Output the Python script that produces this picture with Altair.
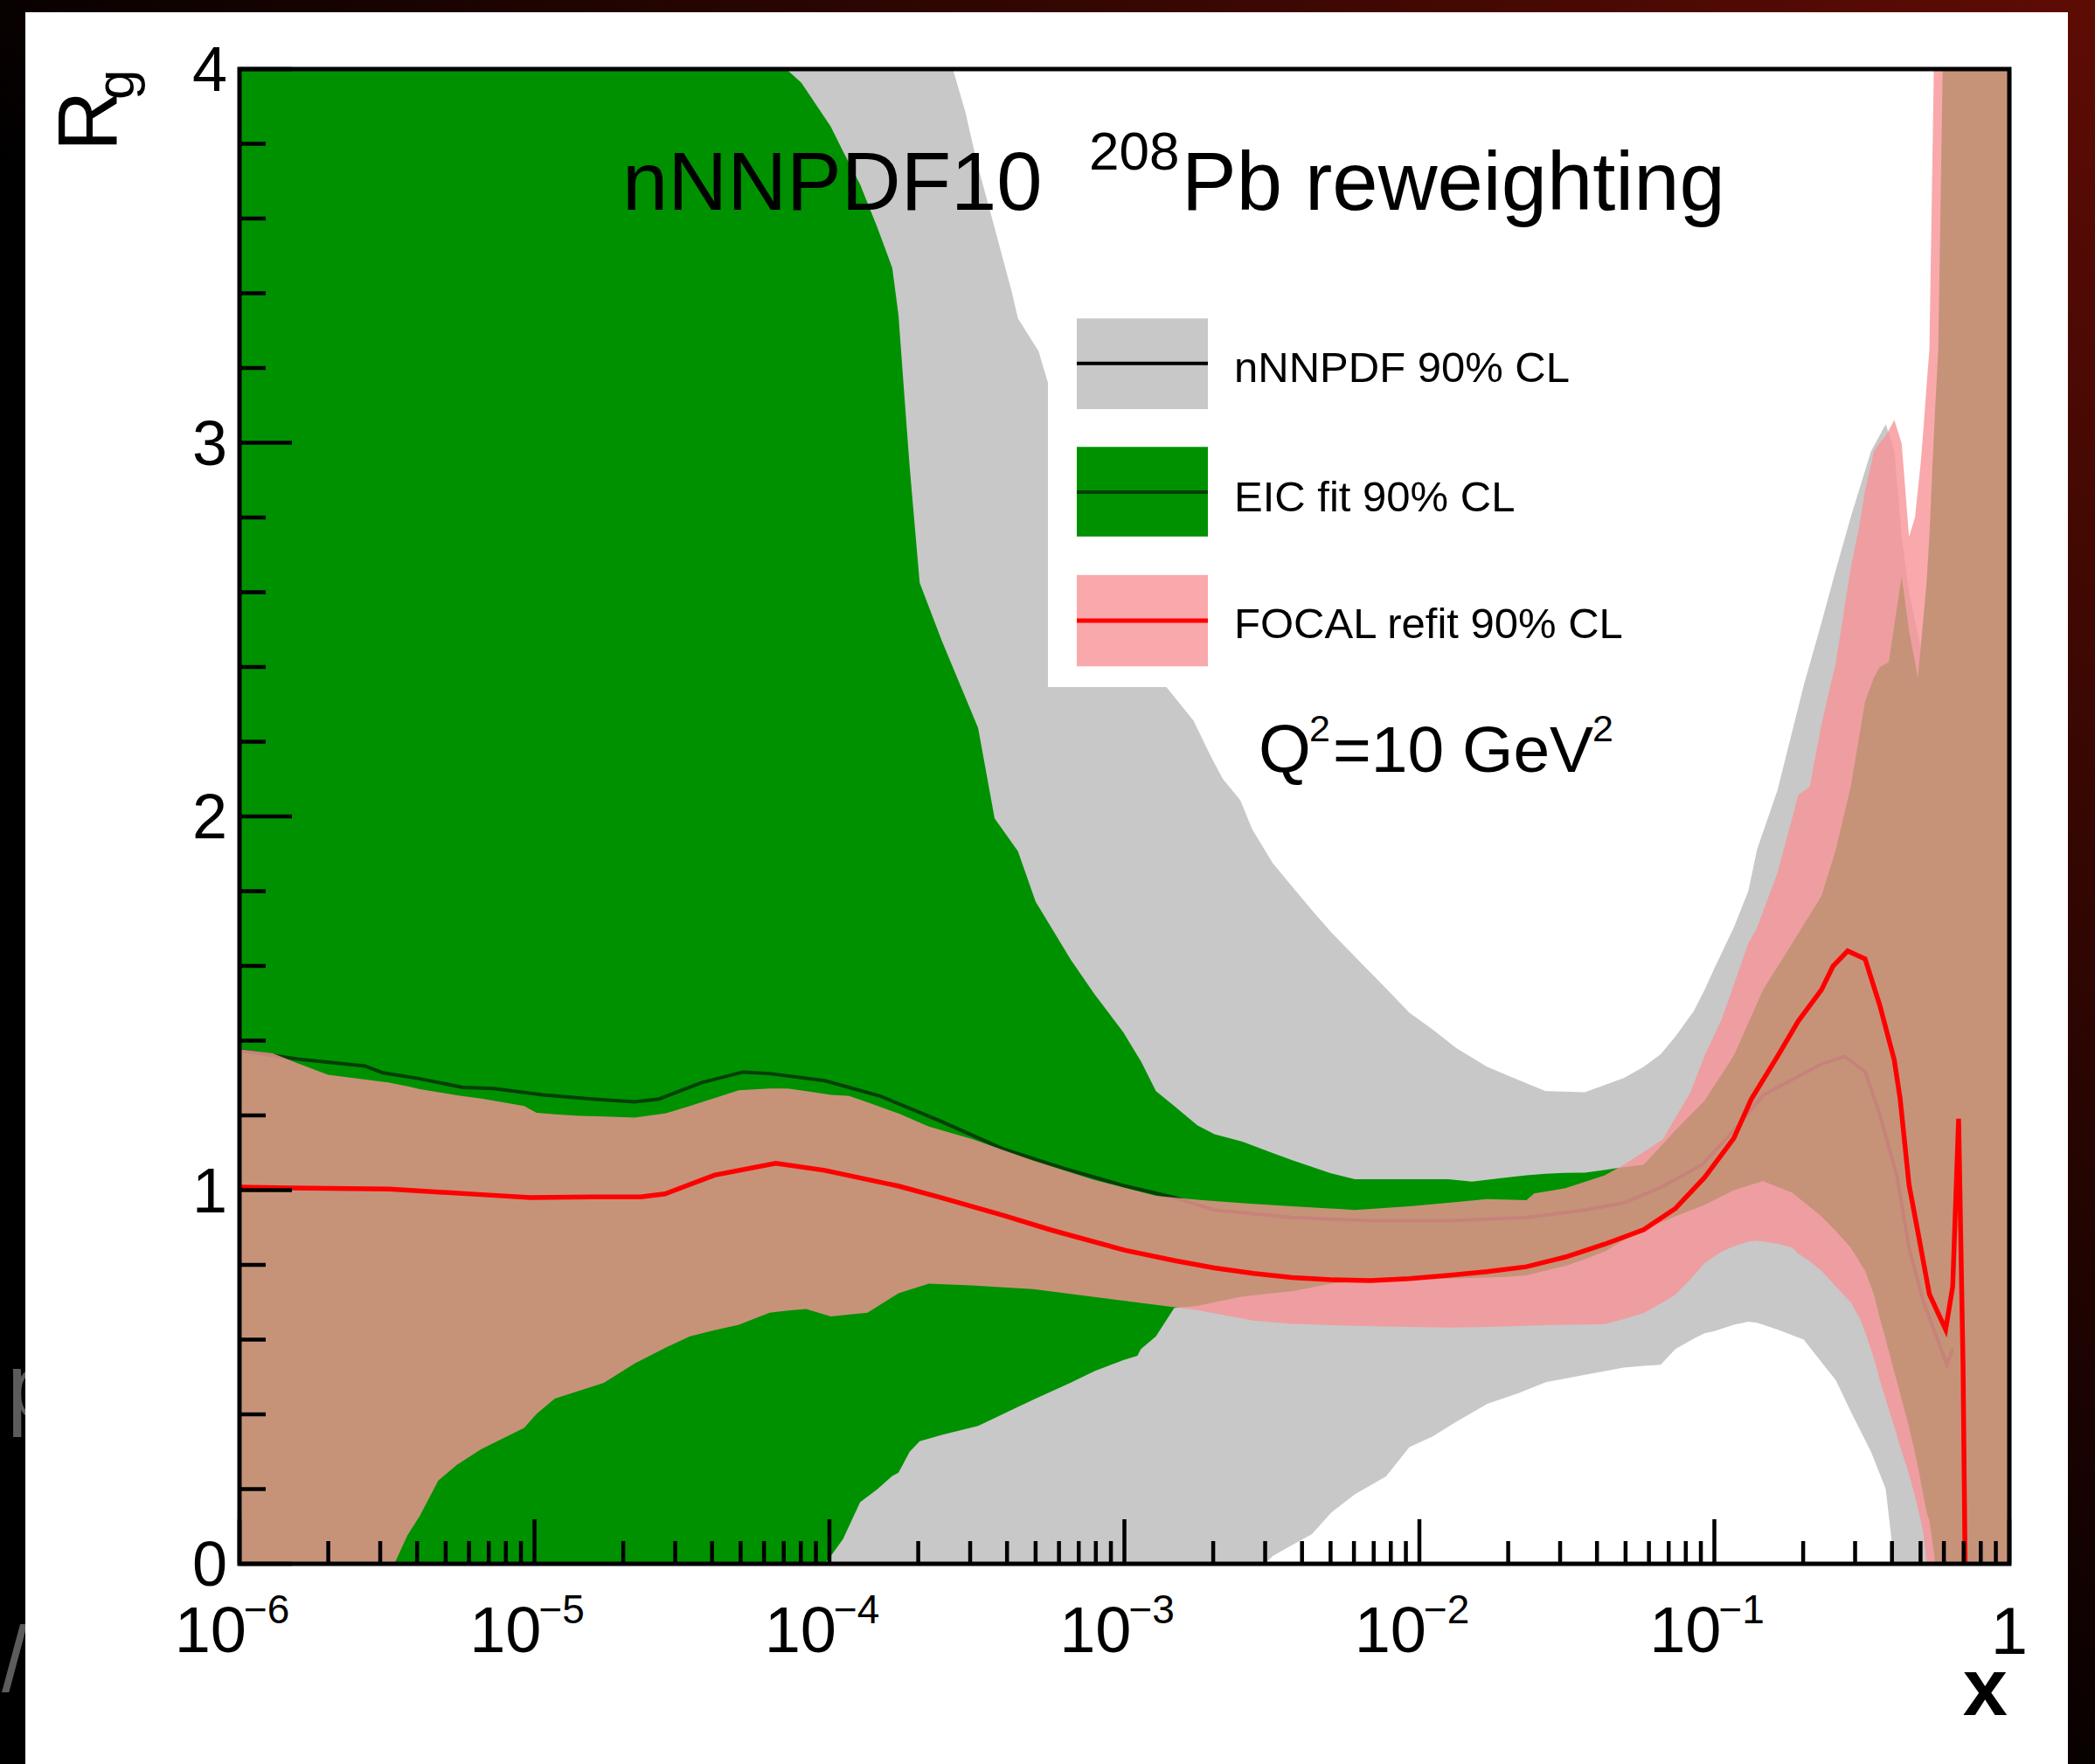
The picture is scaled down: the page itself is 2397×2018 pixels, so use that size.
import altair as alt
import numpy as np
import pandas as pd

W, H = 2025, 1710
FONT = "Liberation Sans"

# ---------------- data (log10 x, R_g values) ----------------
# nNNPDF 90% CL band (grey)
gray_lx = [-6.0, -3.62, -3.589, -3.539, -3.50, -3.44, -3.381, -3.361, -3.291, -3.262, -3.15, -3.0,
           -2.865, -2.766, -2.706, -2.667, -2.607, -2.567, -2.524, -2.497, -2.409, -2.365, -2.299,
           -2.219, -2.113, -2.034, -1.955, -1.875, -1.770, -1.664, -1.572, -1.439, -1.307, -1.240,
           -1.182, -1.132, -1.069, -1.033, -1.002, -0.934, -0.885, -0.855, -0.786, -0.697, -0.637,
           -0.588, -0.538, -0.469, -0.419, -0.390, -0.365, -0.340, -0.300, -0.250, 0.0]
gray_lo = [0, 0, 0, 0, 0, 0, 0, 0, 0, 0, 0, 0, 0, 0, 0, 0, 0, 0, 0,
           0.021, 0.060, 0.079, 0.137, 0.186, 0.234, 0.312, 0.341, 0.380, 0.428, 0.457, 0.486,
           0.506, 0.525, 0.530, 0.533, 0.575, 0.603, 0.617, 0.622, 0.640, 0.648, 0.645, 0.627,
           0.600, 0.540, 0.491, 0.408, 0.300, 0.200, 0.0, 0, 0, 0, 0, 0]
gray_hi = [4.3, 4.3, 4.02, 3.885, 3.75, 3.575, 3.401, 3.333, 3.245, 3.168, 2.93, 2.63,
           2.353, 2.257, 2.159, 2.101, 2.043, 1.966, 1.91, 1.875, 1.791, 1.75, 1.69,
           1.625, 1.54, 1.475, 1.43, 1.38, 1.33, 1.295, 1.265, 1.262, 1.30, 1.330,
           1.364, 1.411, 1.48, 1.536, 1.59, 1.703, 1.80, 1.912, 2.07, 2.351, 2.518,
           2.66, 2.80, 2.977, 3.05, 2.98, 2.75, 2.60, 2.45, 2.3, 2.2]

# EIC fit 90% CL band (green)
green_lx = [-6.0, -4.20, -4.174, -4.095, -4.016, -3.996, -3.954, -3.896, -3.837, -3.787, -3.766,
            -3.748, -3.728, -3.694, -3.619, -3.496, -3.440, -3.361, -3.301, -3.182, -3.101,
            -3.004, -2.956, -2.944, -2.893, -2.831, -2.752, -2.695, -2.60, -2.50, -2.431, -2.30,
            -2.219, -2.034, -1.902, -1.822, -1.703, -1.637, -1.571, -1.505, -1.439, -1.373,
            -1.320, -1.240, -1.132, -1.033, -0.934, -0.835, -0.736, -0.637, -0.588, -0.538,
            -0.489, -0.459, -0.439, -0.409, -0.365, -0.340, -0.310, -0.281, -0.271, -0.261,
            -0.251, -0.241, -0.22, 0.0]
green_lo = [0, 0, 0, 0, 0, 0.02, 0.066, 0.165, 0.20, 0.235, 0.244, 0.27, 0.30, 0.328, 0.345,
            0.369, 0.39, 0.42, 0.442, 0.485, 0.516, 0.545, 0.557, 0.575, 0.609, 0.685, 0.690,
            0.700, 0.715, 0.724, 0.729, 0.750, 0.755, 0.760, 0.763, 0.765, 0.768, 0.772, 0.785,
            0.797, 0.815, 0.835, 0.860, 0.894, 0.930, 0.960, 1.000, 1.024, 0.993, 0.930, 0.890,
            0.846, 0.784, 0.720, 0.658, 0.570, 0.440, 0.366, 0.260, 0.140, 0.115, 0.060, 0.0,
            0, 0, 0]
green_hi = [4.3, 4.3, 4.02, 3.963, 3.87, 3.847, 3.78, 3.691, 3.575, 3.468, 3.342, 3.148, 2.935,
            2.625, 2.470, 2.237, 1.995, 1.907, 1.772, 1.617, 1.524, 1.423, 1.36, 1.345, 1.265,
            1.225, 1.173, 1.150, 1.13, 1.10, 1.08, 1.045, 1.029, 1.029, 1.029, 1.023, 1.034,
            1.040, 1.044, 1.046, 1.047, 1.054, 1.060, 1.068, 1.160, 1.240, 1.360, 1.536, 1.661,
            1.787, 1.912, 2.079, 2.309, 2.372, 2.40, 2.413, 2.643, 2.497, 2.372, 2.622, 2.75,
            2.936, 3.10, 3.249, 4.3, 4.3]

# EIC fit central value (dark green line)
eic_lx = [-6.0, -5.804, -5.575, -5.513, -5.388, -5.243, -5.139, -4.972, -4.806, -4.661, -4.577,
          -4.432, -4.293, -4.203, -4.016, -3.829, -3.621, -3.413, -3.205, -2.997, -2.831, -2.695,
          -2.431, -2.166, -1.902, -1.637, -1.439, -1.307, -1.174, -1.042, -0.934, -0.835, -0.736,
          -0.637, -0.558, -0.489, -0.439, -0.380, -0.340, -0.291, -0.241, -0.212, -0.192]
eic_y = [1.374, 1.351, 1.332, 1.314, 1.298, 1.275, 1.272, 1.255, 1.244, 1.236, 1.244,
         1.288, 1.316, 1.312, 1.293, 1.252, 1.184, 1.111, 1.058, 1.011, 0.980, 0.947,
         0.927, 0.918, 0.918, 0.927, 0.947, 0.966, 1.010, 1.068, 1.160, 1.254, 1.296,
         1.337, 1.358, 1.317, 1.202, 1.034, 0.846, 0.700, 0.596, 0.533, 0.575]

# FOCAL refit 90% CL band (pink)
pink_lx = [-6.0, -5.887, -5.804, -5.700, -5.492, -5.475, -5.430, -5.388, -5.326, -5.263, -5.180,
           -5.035, -4.993, -4.931, -4.848, -4.765, -4.660, -4.557, -4.473, -4.390, -4.307, -4.203,
           -4.141, -4.079, -3.995, -3.933, -3.871, -3.766, -3.663, -3.517, -3.309, -3.101, -2.893,
           -2.762, -2.695, -2.563, -2.431, -2.219, -2.034, -1.902, -1.770, -1.637, -1.611, -1.505,
           -1.373, -1.307, -1.240, -1.174, -1.135, -1.082, -1.033, -0.976, -0.934, -0.885, -0.855,
           -0.786, -0.736, -0.716, -0.677, -0.637, -0.588, -0.538, -0.508, -0.489, -0.459, -0.439,
           -0.419, -0.390, -0.365, -0.340, -0.320, -0.300, -0.291, -0.281, -0.271, -0.250, 0.0]
pink_lo = [0, 0, 0, 0, 0, 0, 0.077, 0.129, 0.223, 0.265, 0.307, 0.364, 0.401, 0.442, 0.463,
           0.484, 0.536, 0.578, 0.609, 0.625, 0.640, 0.672, 0.678, 0.682, 0.662, 0.667, 0.672,
           0.724, 0.750, 0.745, 0.735, 0.714, 0.693, 0.680, 0.670, 0.651, 0.642, 0.637, 0.634,
           0.632, 0.634, 0.637, 0.638, 0.640, 0.641, 0.655, 0.671, 0.700, 0.719, 0.760, 0.805,
           0.835, 0.850, 0.862, 0.865, 0.857, 0.846, 0.830, 0.810, 0.784, 0.742, 0.700, 0.658,
           0.620, 0.550, 0.491, 0.440, 0.366, 0.300, 0.240, 0.180, 0.115, 0.080, 0.0, 0, 0, 0]
pink_hi = [1.377, 1.366, 1.340, 1.309, 1.288, 1.285, 1.278, 1.270, 1.262, 1.254, 1.245, 1.225,
           1.207, 1.203, 1.199, 1.197, 1.194, 1.205, 1.225, 1.246, 1.267, 1.272, 1.272, 1.265,
           1.255, 1.252, 1.235, 1.205, 1.170, 1.137, 1.079, 1.027, 0.985, 0.975, 0.971, 0.963,
           0.957, 0.947, 0.957, 0.966, 0.976, 0.973, 0.991, 1.005, 1.039, 1.068, 1.102, 1.136,
           1.190, 1.260, 1.360, 1.456, 1.550, 1.660, 1.703, 1.850, 1.996, 2.058, 2.079, 2.246,
           2.413, 2.664, 2.780, 2.873, 2.977, 3.000, 3.019, 3.061, 2.998, 2.748, 2.800, 2.950,
           3.040, 3.150, 3.249, 4.3, 4.3]

# FOCAL refit central value (red line)
red_lx = [-6.0, -5.825, -5.492, -5.180, -5.014, -4.806, -4.640, -4.557, -4.390, -4.182, -4.016,
          -3.767, -3.621, -3.413, -3.247, -2.997, -2.828, -2.695, -2.563, -2.431, -2.299, -2.166,
          -2.034, -1.902, -1.770, -1.637, -1.505, -1.373, -1.240, -1.132, -1.033, -0.934, -0.875,
          -0.786, -0.716, -0.637, -0.598, -0.548, -0.489, -0.439, -0.390, -0.370, -0.340, -0.310,
          -0.271, -0.216, -0.192, -0.172, -0.157, -0.150]
red_y = [1.008, 1.006, 1.003, 0.988, 0.980, 0.982, 0.982, 0.990, 1.040, 1.072, 1.053,
         1.011, 0.980, 0.933, 0.893, 0.839, 0.811, 0.792, 0.777, 0.766, 0.760, 0.758,
         0.763, 0.772, 0.782, 0.795, 0.821, 0.855, 0.894, 0.951, 1.034, 1.139, 1.243,
         1.358, 1.452, 1.536, 1.599, 1.640, 1.619, 1.494, 1.348, 1.243, 1.014, 0.888,
         0.721, 0.627, 0.742, 1.191, 0.533, 0.0]

# axis ticks and labels
y_major = [0, 1, 2, 3, 4]
y_minor = [0.2, 0.4, 0.6, 0.8, 1.2, 1.4, 1.6, 1.8, 2.2, 2.4, 2.6, 2.8, 3.2, 3.4, 3.6, 3.8]
y_labels = ["0", "1", "2", "3", "4"]
x_major = [1e-6, 1e-5, 1e-4, 1e-3, 1e-2, 1e-1, 1.0]
x_minor = [k * 10.0 ** e for e in range(-6, 0) for k in range(2, 10)]
x_exps = ["\u22126", "\u22125", "\u22124", "\u22123", "\u22122", "\u22121"]

legend_labels = ["nNNPDF 90% CL", "EIC fit 90% CL", "FOCAL refit 90% CL"]

# ---------------- colours ----------------
C_GRAY = "#C8C8C8"
C_GREEN = "#009100"
C_EIC = "#063F06"
C_PINK = "#F79497"
PINK_OP = 0.8
C_RED = "#FF0000"

# ---------------- scales ----------------
xs = alt.Scale(type="log", domain=[1e-6, 1], nice=False)
ys = alt.Scale(type="linear", domain=[0, 4], nice=False, zero=False)


def X(f="x"):
    return alt.X(f"{f}:Q", scale=xs, axis=None)


def Y(f="y"):
    return alt.Y(f"{f}:Q", scale=ys, axis=None)


def P(lx):
    return np.power(10.0, np.array(lx, dtype=float))


one = pd.DataFrame({"k": [0]})
layers = []

# page background (dark slide gradient) and white canvas
bg_grad = alt.Gradient(
    gradient="linear",
    stops=[alt.GradientStop(color="#000000", offset=0),
           alt.GradientStop(color="#000000", offset=0.45),
           alt.GradientStop(color="#5E0C04", offset=1)],
    x1=0, y1=1, x2=1, y2=0)
layers.append(alt.Chart(one).mark_rect(color=bg_grad).encode(
    x=alt.value(-274), x2=alt.value(2123), y=alt.value(-79), y2=alt.value(1945)))
layers.append(alt.Chart(one).mark_text(text="p", align="left", baseline="alphabetic",
                                       fontSize=105, font=FONT, color="#5c5c5c").encode(
    x=alt.value(-266), y=alt.value(1543)))
layers.append(alt.Chart(one).mark_text(text="/", align="left", baseline="alphabetic",
                                       fontSize=105, font=FONT, color="#5c5c5c").encode(
    x=alt.value(-272), y=alt.value(1856)))
layers.append(alt.Chart(one).mark_rect(color="#FFFFFF").encode(
    x=alt.value(-245), x2=alt.value(2092), y=alt.value(-65), y2=alt.value(1945)))

# bands and lines
def band(lx, lo, hi, color, op=1.0):
    df = pd.DataFrame({"x": P(lx), "lo": lo, "hi": hi})
    return alt.Chart(df).mark_area(color=color, opacity=op, clip=True).encode(
        x=X(), y=Y("hi"), y2="lo:Q")


def curve(lx, yv, color, width):
    df = pd.DataFrame({"x": P(lx), "y": yv})
    return alt.Chart(df).mark_line(color=color, strokeWidth=width, clip=True).encode(
        x=X(), y=Y())


layers.append(band(gray_lx, gray_lo, gray_hi, C_GRAY))
layers.append(band(green_lx, green_lo, green_hi, C_GREEN))
layers.append(curve(eic_lx, eic_y, C_EIC, 4))
layers.append(band(pink_lx, pink_lo, pink_hi, C_PINK, PINK_OP))
layers.append(curve(red_lx, red_y, C_RED, 5.5))

# legend
leg_box = pd.DataFrame({"x": P([-3.2593]), "x2": P([-1.2119]), "y": [3.389], "y2": [2.346]})
layers.append(alt.Chart(leg_box).mark_rect(color="#FFFFFF").encode(
    x=X(), x2="x2:Q", y=Y(), y2="y2:Q"))
sw_x, sw_x2 = P([-3.1615])[0], P([-2.717])[0]
sw = [(3.333, 3.090, 3.212, C_GRAY, 1.0, "#000000", 4),
      (2.989, 2.749, 2.868, C_GREEN, 1.0, C_EIC, 4),
      (2.646, 2.402, 2.524, C_PINK, PINK_OP, C_RED, 5)]
for (yt, yb, yl, fc, op, lc, lw) in sw:
    d = pd.DataFrame({"x": [sw_x], "x2": [sw_x2], "y": [yt], "y2": [yb], "yl": [yl]})
    layers.append(alt.Chart(d).mark_rect(color=fc, opacity=op).encode(
        x=X(), x2="x2:Q", y=Y(), y2="y2:Q"))
    layers.append(alt.Chart(d).mark_rule(color=lc, strokeWidth=lw).encode(
        x=X(), x2="x2:Q", y=Y("yl")))
leg_txt = pd.DataFrame({"x": P([-2.628] * 3), "y": [3.163, 2.816, 2.477], "t": legend_labels})
layers.append(alt.Chart(leg_txt).mark_text(align="left", baseline="alphabetic", fontSize=49,
                                           font=FONT, color="#000000").encode(
    x=X(), y=Y(), text="t:N"))

# title and Q^2 annotation
ann = pd.DataFrame({
    "x": P([-4.7022, -3.12, -2.806, -2.5452, -2.3733, -2.2933, -1.4133]),
    "y": [3.6234, 3.731, 3.6234, 2.1193, 2.2012, 2.1193, 2.2012],
    "t": ["nNNPDF10", "208", "Pb reweighting", "Q", "2", "=10 GeV", "2"],
    "s": [94, 62, 94, 77, 43, 75, 43],
})
for i in range(len(ann)):
    r = ann.iloc[[i]]
    layers.append(alt.Chart(r).mark_text(align="left", baseline="alphabetic",
                                         fontSize=int(r["s"].iloc[0]), font=FONT,
                                         color="#000000").encode(x=X(), y=Y(), text="t:N"))

# ticks (inward, ROOT style)
layers.append(alt.Chart(pd.DataFrame({"y": y_major})).mark_rule(color="#000000", strokeWidth=4.5).encode(
    y=Y(), x=alt.value(0), x2=alt.value(60)))
layers.append(alt.Chart(pd.DataFrame({"y": y_minor})).mark_rule(color="#000000", strokeWidth=4.5).encode(
    y=Y(), x=alt.value(0), x2=alt.value(30)))
layers.append(alt.Chart(pd.DataFrame({"x": x_major})).mark_rule(color="#000000", strokeWidth=4.5).encode(
    x=X(), y=alt.value(H), y2=alt.value(H - 51)))
layers.append(alt.Chart(pd.DataFrame({"x": x_minor})).mark_rule(color="#000000", strokeWidth=4.5).encode(
    x=X(), y=alt.value(H), y2=alt.value(H - 26)))

# frame
layers.append(alt.Chart(one).mark_rect(fillOpacity=0, stroke="#000000", strokeWidth=5).encode(
    x=alt.value(0), x2=alt.value(W), y=alt.value(0), y2=alt.value(H)))

# tick labels
layers.append(alt.Chart(pd.DataFrame({"y": y_major, "t": y_labels})).mark_text(
    align="right", baseline="middle", fontSize=72, font=FONT, color="#000000", dy=3).encode(
    x=alt.value(-14), y=Y(), text="t:N"))
xl = pd.DataFrame({"x": x_major[:-1], "b": ["10"] * 6, "e": x_exps})
layers.append(alt.Chart(xl).mark_text(align="right", baseline="alphabetic", fontSize=74,
                                      font=FONT, color="#000000", dx=8).encode(
    x=X(), y=alt.value(H + 101), text="b:N"))
layers.append(alt.Chart(xl).mark_text(align="left", baseline="alphabetic", fontSize=46,
                                      font=FONT, color="#000000", dx=5).encode(
    x=X(), y=alt.value(H + 68), text="e:N"))
layers.append(alt.Chart(pd.DataFrame({"x": [1.0], "t": ["1"]})).mark_text(
    align="center", baseline="alphabetic", fontSize=76, font=FONT, color="#000000").encode(
    x=X(), y=alt.value(H + 103), text="t:N"))

# axis titles
layers.append(alt.Chart(one).mark_text(text="R", align="left", baseline="alphabetic", angle=270,
                                       fontSize=96, font=FONT, color="#000000").encode(
    x=alt.value(-140), y=alt.value(94)))
layers.append(alt.Chart(one).mark_text(text="g", align="left", baseline="alphabetic", angle=270,
                                       fontSize=62, font=FONT, color="#000000").encode(
    x=alt.value(-121), y=alt.value(35)))
layers.append(alt.Chart(one).mark_text(text="x", align="right", baseline="alphabetic",
                                       fontSize=92, font=FONT, fontWeight="bold",
                                       color="#000000").encode(
    x=alt.value(2023), y=alt.value(1883)))

chart = alt.layer(*layers).properties(
    width=W, height=H,
    autosize=alt.AutoSizeParams(type="none"),
    padding={"left": 274, "top": 79, "right": 98, "bottom": 229},
    background="#000000",
).configure_view(stroke=None)

chart.save("out.html", embed_options={"renderer": "svg", "actions": False})
